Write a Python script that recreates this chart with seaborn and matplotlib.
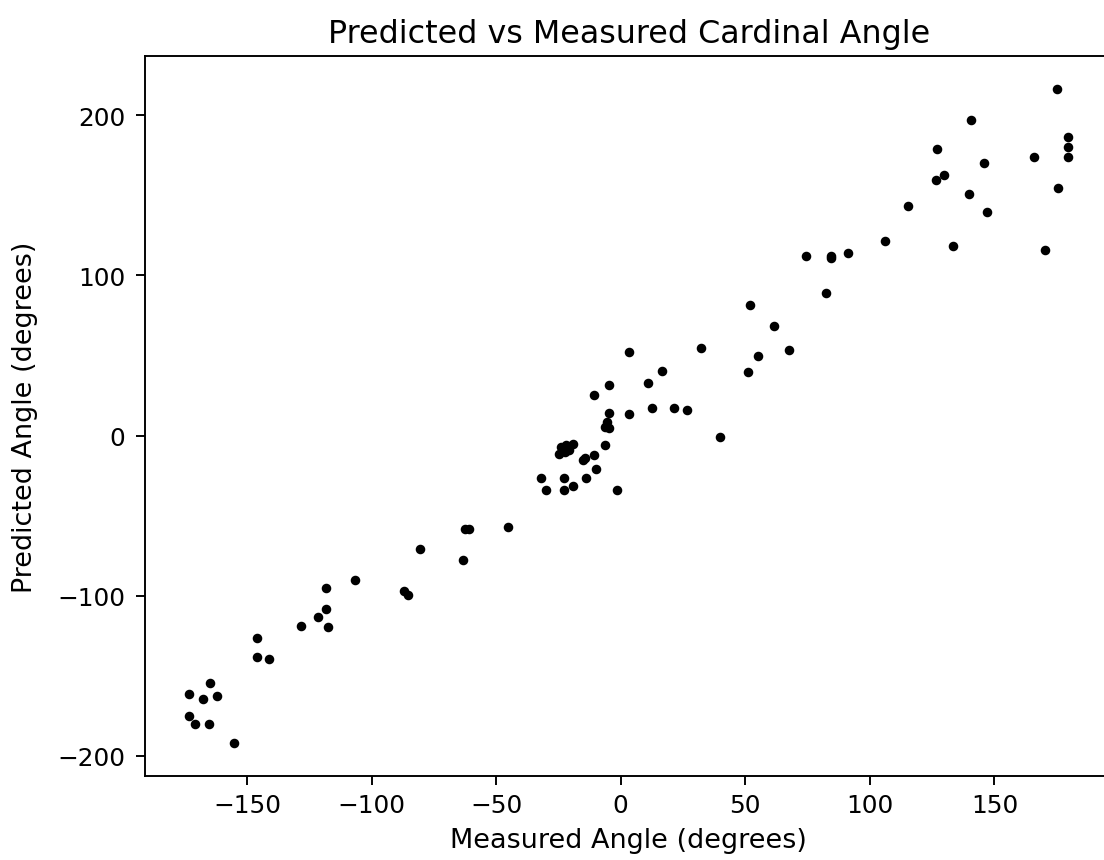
import matplotlib
matplotlib.use('Agg')
import matplotlib.pyplot as plt
import seaborn as sns
import pandas

# Measured vs predicted cardinal angle (degrees)
measured = [
    -45.4, -62.6, -60.9, -80.7, -63.5, -106.6, -118.2, -87.1, -85.4, -118.2,
    -121.6, -128.5, -117.6, -145.8, -145.8, -141.0, -164.7, -173.3, -167.8, -162.2,
    -173.3, -170.9, -165.4, -155.2,
    3.3, 16.6, 11.1, -4.6, -10.9, -4.6, 3.3, 12.7, 21.3, 26.8,
    -5.4, -6.3, -4.6, -6.2, 40.0, -24.0, -22.0, -19.1, -24.7, -22.4,
    -20.7, -10.9, -15.3, -14.4, -10.1, -32.0, -22.7, -14.1, -29.8, -22.7,
    -19.3, -1.5,
    175.0, 140.6, 179.7, 179.7, 179.7, 127.1, 165.7, 146.0, 129.7, 126.4,
    139.8, 175.6, 146.9, 115.4, 106.0, 133.5, 170.3, 74.5, 84.4, 84.2,
    91.1, 82.4, 51.9, 61.4, 32.3, 54.9, 67.6, 51.1,
]
predicted = [
    -57.1, -58.4, -58.4, -70.6, -77.9, -90.0, -95.0, -97.3, -99.8, -108.2,
    -113.2, -119.1, -119.3, -126.6, -138.6, -139.8, -154.4, -161.7, -164.3, -162.9,
    -175.2, -179.9, -179.9, -192.2,
    52.4, 40.3, 32.9, 31.6, 25.6, 14.0, 13.3, 17.1, 17.1, 15.8,
    8.7, 5.6, 4.6, -6.0, -1.0, -6.9, -6.1, -5.4, -11.6, -10.0,
    -8.9, -12.0, -15.1, -14.1, -20.8, -26.8, -26.8, -26.8, -34.0, -34.0,
    -31.5, -34.0,
    216.6, 197.3, 186.4, 180.2, 173.9, 178.9, 173.9, 170.4, 163.0, 159.4,
    150.9, 154.6, 139.9, 143.6, 121.8, 118.1, 115.6, 112.0, 112.0, 110.8,
    114.3, 88.8, 81.5, 68.2, 54.9, 49.9, 53.6, 39.5,
]
xticks = [-150, -100, -50, 0, 50, 100, 150]
yticks = [-200, -100, 0, 100, 200]

df = pandas.DataFrame({'Measured': measured, 'Predicted': predicted})

dpi = 172
fig = plt.figure(figsize=(1104 / dpi, 861 / dpi), dpi=dpi)
# axes runs past the right edge of the canvas, as in the reference crop
ax = fig.add_axes([145 / 1104, 84 / 861, (1112.4 - 145) / 1104, 720 / 861])

sns.scatterplot(data=df, x='Measured', y='Predicted', ax=ax, color='k',
                marker='o', s=9, linewidth=1, edgecolor='k')

ax.set_title('Predicted vs Measured Cardinal Angle', fontsize=13.3)
ax.set_xlabel('Measured Angle (degrees)', fontsize=11.3)
ax.set_ylabel('Predicted Angle (degrees)', fontsize=11.3, labelpad=8)
ax.set_xticks(xticks)
ax.set_yticks(yticks)
ax.tick_params(labelsize=10.35, length=3.8)
ax.tick_params(axis='y', pad=4.5)

fig.savefig('out.png', dpi=dpi)
